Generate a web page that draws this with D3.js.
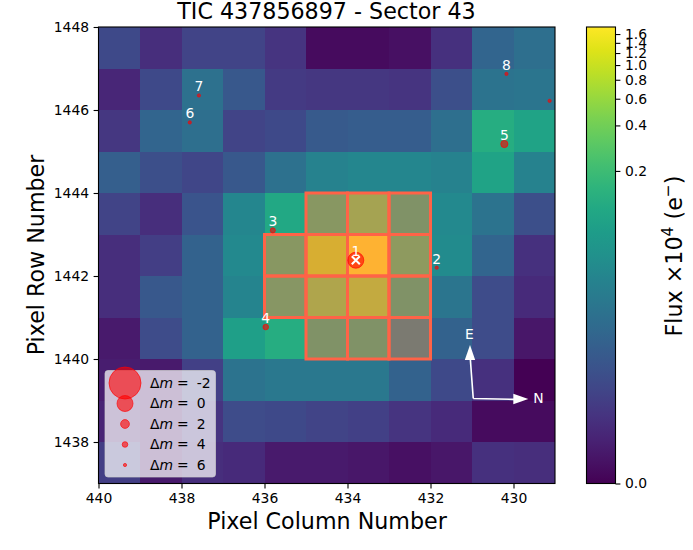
<!DOCTYPE html>
<html><head><meta charset="utf-8">
<script src="https://cdn.jsdelivr.net/npm/d3@7"></script>
<style>html,body{margin:0;padding:0;background:#fff}svg{display:block}text{font-family:"DejaVu Sans";fill:#000}</style>
</head><body><svg id="c" width="693" height="550"></svg>
<script>
const chartTitle = "TIC 437856897 - Sector 43";
const columns = [440,439,438,437,436,435,434,433,432,431,430];
const rows = [1447,1446,1445,1444,1443,1442,1441,1440,1439,1438,1437];
const flux = [
 [.0064,.0026,.0053,.0053,.0032,.0004,.0004,.0006,.0029,.0145,.0196],
 [.0020,.0064,.0211,.0097,.0040,.0036,.0036,.0032,.0076,.0228,.0245],
 [.0036,.0145,.0196,.0053,.0064,.0105,.0114,.0114,.0196,.127,.096],
 [.0124,.0076,.0058,.0097,.0211,.0354,.0409,.0409,.0354,.096,.0354],
 [.0053,.0026,.0089,.0409,.111,.193,.362,.146,.044,.0228,.0076],
 [.0026,.0044,.0134,.044,.193,.891,1.78,.223,.0472,.0145,.0029],
 [.0026,.0097,.0134,.0381,.18,.445,.63,.146,.0245,.0069,.0023],
 [.0011,.0069,.0134,.0835,.127,.146,.146,.044,.0134,.0069,.0009],
 [.0013,.0011,.0048,.0228,.0264,.0264,.0264,.0134,.0064,.0029,0],
 [.0018,.0011,.0032,.0069,.0064,.0053,.0048,.0032,.0023,.0004,.0004],
 [.0044,.0011,.0026,.0023,.0011,.0011,.0009,.0006,.0009,.0029,.0026]
];
const fluxMax = 1.78;
const apertureCols = [435,434,433, 436,435,434,433, 436,435,434,433, 435,434,433];
const apertureRows = [1443,1443,1443, 1442,1442,1442,1442, 1441,1441,1441,1441, 1440,1440,1440];
const starLabels = ["1","2","3","4","5","6","7","8",""];
const starCol = [433.8,431.85,435.8,435.97,430.22,437.8,437.58,430.17,429.13];
const starRow = [1442.38,1442.2,1443.1,1440.77,1445.18,1445.7,1446.35,1446.87,1446.22];
const starDm = [0,6.2,4.4,4,3,6,6,6,6];
const legendDm = [-2,0,2,4,6];
const legendRadius = [16,8,4.4,2.8,1.6];
const xTicks = [440,438,436,434,432,430];
const yTicks = [1438,1440,1442,1444,1446,1448];
const cbTicks = [0,.2,.4,.6,.8,1,1.2,1.4,1.6];

const svg = d3.select("#c");
const L=98.5,R=555,T=27,B=483.5;
const x = d3.scaleLinear([440,429],[L,R]);
const y = d3.scaleLinear([1437,1448],[B,T]);
const stretchIn = v => 1+1000*v/fluxMax;
const cbPos = d3.scaleLog([1,1001],[B,T]);
const tScale = d3.scaleLog([1,1001],[0,1]);
const color = v => d3.interpolateViridis(tScale(stretchIn(v)));
const rad = d3.scaleLinear(legendDm,legendRadius).clamp(true);
const red = "#ff0000", tomato = "#ff6347";

// image
const cells = [];
rows.forEach((r,i)=>columns.forEach((c,j)=>cells.push({c,r,v:flux[i][j]})));
svg.append("g").attr("shape-rendering","crispEdges").selectAll("rect").data(cells).join("rect")
  .attr("x",d=>x(d.c)).attr("y",d=>y(d.r+1))
  .attr("width",d=>x(d.c-1)-x(d.c)).attr("height",d=>y(d.r)-y(d.r+1))
  .attr("fill",d=>color(d.v));

// aperture
svg.append("g").selectAll("rect").data(apertureCols.map((c,i)=>({c,r:apertureRows[i]}))).join("rect")
  .attr("x",d=>x(d.c)).attr("y",d=>y(d.r+1))
  .attr("width",d=>x(d.c-1)-x(d.c)).attr("height",d=>y(d.r)-y(d.r+1))
  .attr("fill",tomato).attr("fill-opacity",.4);
svg.append("g").selectAll("rect").data(apertureCols.map((c,i)=>({c,r:apertureRows[i]}))).join("rect")
  .attr("x",d=>x(d.c)).attr("y",d=>y(d.r+1))
  .attr("width",d=>x(d.c-1)-x(d.c)).attr("height",d=>y(d.r)-y(d.r+1))
  .attr("fill","none").attr("stroke",tomato).attr("stroke-width",3);

// stars
const stars = starCol.map((c,i)=>({c,r:starRow[i],dm:starDm[i],l:starLabels[i]}));
svg.append("g").selectAll("circle").data(stars).join("circle")
  .attr("cx",d=>x(d.c)).attr("cy",d=>y(d.r)).attr("r",d=>rad(d.dm))
  .attr("fill",red).attr("fill-opacity",.6).attr("stroke",red).attr("stroke-opacity",.8).attr("stroke-width",.8);
// target cross
const sx=x(starCol[0]), sy=y(starRow[0]);
svg.append("path").attr("d",`M${sx-4},${sy-4}L${sx+4},${sy+4}M${sx-4},${sy+4}L${sx+4},${sy-4}`)
  .attr("stroke","#fff").attr("stroke-width",2).attr("fill","none");
svg.append("g").selectAll("text").data(stars).join("text")
  .attr("x",d=>x(d.c)).attr("y",d=>y(d.r)-4).attr("text-anchor","middle")
  .attr("font-size",13.9).style("fill","#fff").text(d=>d.l);

// compass
const ox=x(430.97), oy=y(1439.05);
const comp=svg.append("g");
const ex=470,ey=345,nx=528.3,ny=399;
comp.append("path").attr("d",`M${ox},${oy}L${ex+.3},${ey+14}M${ox},${oy}L${nx-14},${ny+.4}`)
  .attr("stroke","#fff").attr("stroke-width",1.6).attr("fill","none");
comp.append("path").attr("d",`M${ex},${ey}L${ex+5.2},${ey+15}L${ex-5.2},${ey+15}Z`).attr("fill","#fff");
comp.append("path").attr("d",`M${nx},${ny}L${nx-15},${ny+5.2}L${nx-15},${ny-5.2}Z`).attr("fill","#fff");
comp.append("text").attr("x",469.5).attr("y",338.5).attr("text-anchor","middle").attr("font-size",13.9).style("fill","#fff").text("E");
comp.append("text").attr("x",538.5).attr("y",402.5).attr("text-anchor","middle").attr("font-size",13.9).style("fill","#fff").text("N");

// legend
svg.append("rect").attr("x",105).attr("y",370.5).attr("width",110.5).attr("height",106.5).attr("rx",3)
  .attr("fill","#fff").attr("fill-opacity",.72).attr("stroke","#ccc").attr("stroke-opacity",.7).attr("stroke-width",1);
const ly = d3.scalePoint(legendDm,[383,465]);
const lg = svg.append("g").selectAll("g").data(legendDm).join("g");
lg.append("circle").attr("cx",125).attr("cy",d=>ly(d)).attr("r",d=>rad(d))
  .attr("fill",red).attr("fill-opacity",.6).attr("stroke",red).attr("stroke-opacity",.8).attr("stroke-width",.8);
const lt = lg.append("text").attr("x",150).attr("y",d=>ly(d)+4.5).attr("font-size",13.9);
lt.append("tspan").text("Δ");
lt.append("tspan").attr("font-style","italic").text("m");
lt.append("tspan").attr("dx",4).text("=");
lt.append("tspan").attr("dx",8).text(d=>d);

// axes
function style(g){g.selectAll("text").attr("font-size",13.9).attr("font-family","DejaVu Sans").style("fill","#000");
  g.selectAll("line").attr("stroke","#000").attr("stroke-width",1.1);g.select(".domain").remove();}
svg.append("g").attr("transform",`translate(0,${B})`).call(d3.axisBottom(x).tickValues(xTicks).tickSize(4.9).tickPadding(4.5).tickFormat(d3.format("d"))).call(style);
svg.append("g").attr("transform",`translate(${L},0)`).call(d3.axisLeft(y).tickValues(yTicks).tickSize(4.9).tickPadding(4.5).tickFormat(d3.format("d"))).call(style);
svg.append("rect").attr("x",L).attr("y",T).attr("width",R-L).attr("height",B-T).attr("fill","none").attr("stroke","#000").attr("stroke-width",1.1);

svg.append("text").attr("x",326.5).attr("y",19).attr("text-anchor","middle").attr("font-size",22.2).text(chartTitle);
svg.append("text").attr("x",327).attr("y",529).attr("text-anchor","middle").attr("font-size",22.2).text("Pixel Column Number");
svg.append("text").attr("transform","translate(44,255) rotate(-90)").attr("text-anchor","middle").attr("font-size",22.2).text("Pixel Row Number");

// colorbar
const cbL=586.5,cbR=615.5;
const defs=svg.append("defs");
const grad=defs.append("linearGradient").attr("id","vir").attr("x1",0).attr("x2",0).attr("y1",1).attr("y2",0);
d3.range(0,1.0001,.05).forEach(t=>grad.append("stop").attr("offset",t).attr("stop-color",d3.interpolateViridis(t)));
svg.append("rect").attr("x",cbL).attr("y",T).attr("width",cbR-cbL).attr("height",B-T).attr("fill","url(#vir)").attr("stroke","#000").attr("stroke-width",1.1);
svg.append("g").attr("transform",`translate(${cbR},0)`)
  .call(d3.axisRight(cbPos).tickValues(cbTicks.map(stretchIn)).tickSize(4.9).tickPadding(4.5).tickFormat(d=>((d-1)*fluxMax/1000).toFixed(1))).call(style);
const fl=svg.append("text").attr("transform","translate(682,256) rotate(-90)").attr("text-anchor","middle").attr("font-size",22.2);
fl.append("tspan").text("Flux ×10");
fl.append("tspan").attr("dy",-9).attr("font-size",15.5).text("4");
fl.append("tspan").attr("dy",9).text(" (e");
fl.append("tspan").attr("dy",-9).attr("font-size",15.5).text("−");
fl.append("tspan").attr("dy",9).text(")");
</script></body></html>
